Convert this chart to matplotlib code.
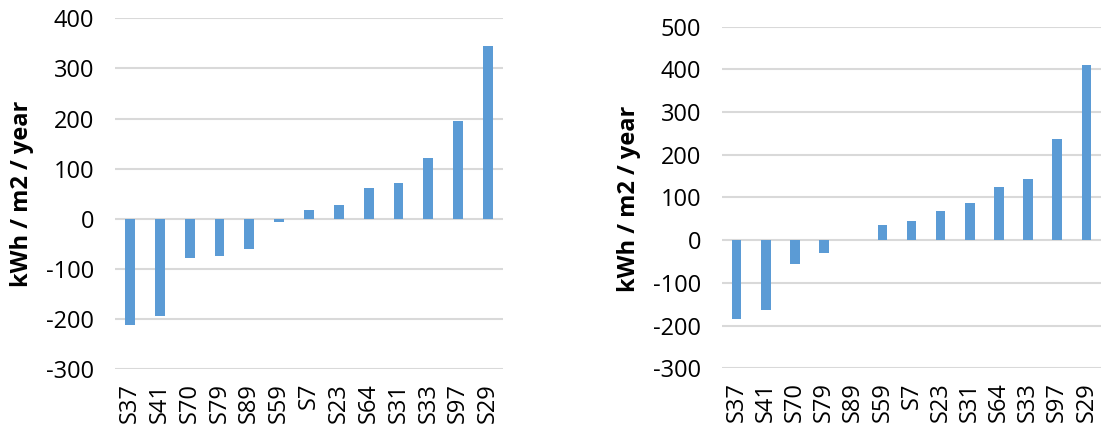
import matplotlib
matplotlib.use("Agg")
import matplotlib.pyplot as plt
import numpy as np

plt.rcParams['font.family'] = ['Open Sans', 'DejaVu Sans']

left_categories = ["S37", "S41", "S70", "S79", "S89", "S59", "S7", "S23", "S64", "S31", "S33", "S97", "S29"]
left_values = [-213, -195, -79, -74, -61, -7, 17, 28, 61, 72, 122, 196, 344]

right_categories = ["S37", "S41", "S70", "S79", "S89", "S59", "S7", "S23", "S31", "S64", "S33", "S97", "S29"]
right_values = [-184, -163, -55, -29, 0, 36, 46, 69, 88, 125, 144, 238, 411]

left_yticks = [-300, -200, -100, 0, 100, 200, 300, 400]
right_yticks = [-300, -200, -100, 0, 100, 200, 300, 400, 500]

ylabel = "kWh / m2 / year"
bar_color = "#5B9BD5"
grid_color = "#D9D9D9"

fig = plt.figure(figsize=(11.06, 4.25), dpi=100)
ax1 = fig.add_axes([115/1106, 1-369/425, (503-115)/1106, (369-18.3)/425])
ax2 = fig.add_axes([722/1106, 1-368.3/425, (1101-722)/1106, (368.3-26.7)/425])

def draw(ax, cats, vals, yticks, ylabel_x):
    x = np.arange(len(cats))
    ax.bar(x, vals, width=0.33, color=bar_color, zorder=3)
    ax.set_xlim(-0.5, len(cats) - 0.5)
    ax.set_ylim(yticks[0], yticks[-1])
    ax.set_yticks(yticks)
    ax.set_yticklabels([str(t) for t in yticks], fontsize=17)
    ax.set_xticks(x)
    ax.set_xticklabels(cats, rotation=90, fontsize=17, va='top')
    ax.tick_params(axis='both', length=0, colors='black')
    ax.tick_params(axis='y', pad=15)
    ax.tick_params(axis='x', pad=10)
    for s in ax.spines.values():
        s.set_visible(False)
    ax.yaxis.grid(True, color=grid_color, linewidth=1.5, zorder=0)
    ax.set_axisbelow(True)
    ax.set_ylabel(ylabel, fontsize=17, fontweight='bold')
    ax.yaxis.set_label_coords(ylabel_x, 0.5, transform=fig.transFigure)

def lab_fig_x(px):
    return px / 1106

draw(ax1, left_categories, left_values, left_yticks, 0)
ax1.yaxis.set_label_coords(22/1106, 0.5 * ((1 - 103/425) + (1 - 285/425)), transform=fig.transFigure)
draw(ax2, right_categories, right_values, right_yticks, 0)
ax2.yaxis.set_label_coords(629/1106, 0.5 * ((1 - 107/425) + (1 - 290/425)), transform=fig.transFigure)
for ax in (ax1, ax2):
    ax.yaxis.label.set_verticalalignment('center')

fig.savefig("out.png", dpi=100)
